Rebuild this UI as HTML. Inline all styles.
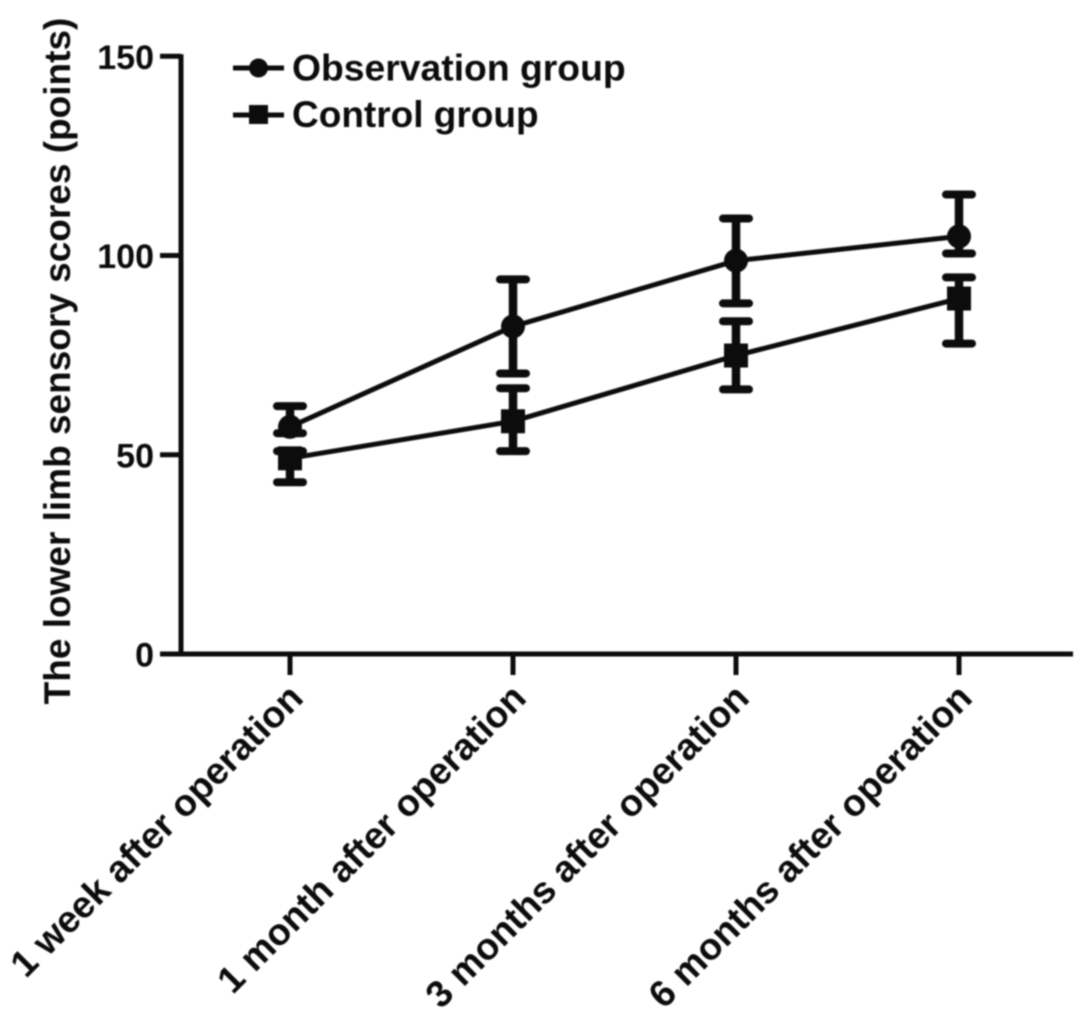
<!DOCTYPE html>
<html>
<head>
<meta charset="utf-8">
<style>
html,body{margin:0;padding:0;background:#fff;width:1087px;height:1018px;overflow:hidden}
svg{display:block;filter:blur(0.7px)}
text{font-family:"Liberation Sans",sans-serif;font-weight:bold;fill:#0c0c0c}
</style>
</head>
<body>
<svg id="chart" width="1087" height="1018" viewBox="0 0 1087 1018" xmlns="http://www.w3.org/2000/svg">
<rect x="0" y="0" width="1087" height="1018" fill="#fff"/>
<text transform="translate(70,361) rotate(-90)" text-anchor="middle" font-size="37">The lower limb sensory scores (points)</text>
</svg>
<script>
const categories = ["1 week after operation", "1 month after operation", "3 months after operation", "6 months after operation"];
const yTicks = [0, 50, 100, 150];
const observationMean = [57, 82.2, 98.7, 104.8];
const observationUpper = [62.2, 94, 109.3, 115.3];
const observationLower = [55.4, 70.4, 88, 100.5];
const controlMean = [49.1, 58.4, 74.9, 89.2];
const controlUpper = [50.9, 66.7, 83.5, 94.5];
const controlLower = [43.1, 50.9, 66.4, 77.9];

const svg = document.getElementById('chart');
const NS = 'http://www.w3.org/2000/svg';
const INK = '#0c0c0c';
function yScale(v) { return 654 - v * 3.985; }
function xScale(i) { return 290 + i * 223; }
function make(tag, attrs, parent) {
  const el = document.createElementNS(NS, tag);
  for (const k in attrs) el.setAttribute(k, attrs[k]);
  (parent || svg).appendChild(el);
  return el;
}

const axes = make('g', {});


const yAxisLine = make('line', {x1: 181, x2: 181, y1: yScale(150) - 2, y2: yScale(0) + 2, stroke: INK, 'stroke-width': 5}, axes);


const xAxisLine = make('line', {x1: 160, x2: 1073, y1: yScale(0), y2: yScale(0), stroke: INK, 'stroke-width': 5}, axes);



yTicks.forEach(function (t) {
  const tick = make('line', {x1: 160, x2: 181, y1: yScale(t), y2: yScale(t), stroke: INK, 'stroke-width': 5}, axes);
  
  
  const label = make('text', {x: 154, y: yScale(t) + 12.5, 'text-anchor': 'end', 'font-size': 34}, axes);
  
  
  label.textContent = t;
});

categories.forEach(function (c, i) {
  const tick = make('line', {x1: xScale(i), x2: xScale(i), y1: yScale(0), y2: yScale(0) + 21, stroke: INK, 'stroke-width': 5}, axes);
  
  
  const label = make('text', {transform: 'translate(' + (xScale(i) + 15) + ',700) rotate(-45)', 'text-anchor': 'end', 'font-size': 37.4}, axes);
  
  
  label.textContent = c;
});

function drawMarker(shape, x, y, parent) {
  if (shape === 'circle') {
    return make('circle', {cx: x, cy: y, r: 12, fill: INK}, parent);
  }
  return make('rect', {x: x - 12, y: y - 12, width: 24, height: 24, fill: INK}, parent);
}

function drawSeries(name, shape, mean, upper, lower) {
  const g = make('g', {});
  
  
  const pts = mean.map(function (v, i) { return xScale(i) + ',' + yScale(v); }).join(' ');
  const line = make('polyline', {points: pts, fill: 'none', stroke: INK, 'stroke-width': 5}, g);
  
  
  mean.forEach(function (v, i) {
    const x = xScale(i);
    const bar = make('line', {x1: x, x2: x, y1: yScale(upper[i]), y2: yScale(lower[i]), stroke: INK, 'stroke-width': 8.5}, g);
    
    
    [upper[i], lower[i]].forEach(function (e) {
      const cap = make('line', {x1: x - 13, x2: x + 13, y1: yScale(e), y2: yScale(e), stroke: INK, 'stroke-width': 8, 'stroke-linecap': 'round'}, g);
      
      
    });
    const marker = drawMarker(shape, x, yScale(v), g);
    
    
  });
}
drawSeries('observation', 'circle', observationMean, observationUpper, observationLower);
drawSeries('control', 'square', controlMean, controlUpper, controlLower);

const legend = make('g', {});


const obsKeyLine = make('line', {x1: 233, x2: 284, y1: 68, y2: 68, stroke: INK, 'stroke-width': 5}, legend);


const obsKeyMarker = make('circle', {cx: 258.5, cy: 68, r: 9.5, fill: INK}, legend);


const obsKeyText = make('text', {x: 292, y: 80.5, 'font-size': 37.3}, legend);


obsKeyText.textContent = 'Observation group';
const ctrlKeyLine = make('line', {x1: 233, x2: 284, y1: 115, y2: 115, stroke: INK, 'stroke-width': 5}, legend);


const ctrlKeyMarker = make('rect', {x: 249, y: 105, width: 19, height: 19, fill: INK}, legend);


const ctrlKeyText = make('text', {x: 292, y: 127, 'font-size': 37}, legend);


ctrlKeyText.textContent = 'Control group';
</script>
</body>
</html>
